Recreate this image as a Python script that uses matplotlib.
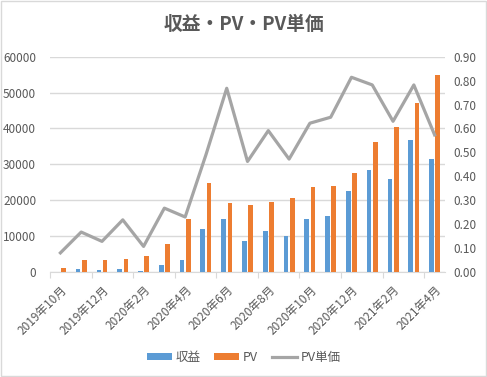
import numpy as np
import matplotlib
matplotlib.use("Agg")
import matplotlib.pyplot as plt
from matplotlib.patches import Rectangle

plt.rcParams['font.family'] = ['Noto Sans CJK JP', 'DejaVu Sans']

# monthly data, 2019-10 .. 2021-04
months = ['2019年10月', '2019年11月', '2019年12月', '2020年1月', '2020年2月', '2020年3月',
          '2020年4月', '2020年5月', '2020年6月', '2020年7月', '2020年8月', '2020年9月',
          '2020年10月', '2020年11月', '2020年12月', '2021年1月', '2021年2月', '2021年3月',
          '2021年4月']
revenue = [100, 730, 450, 700, 400, 2050, 3430, 12100, 14900, 8750, 11500, 9950,
           14900, 15700, 22700, 28300, 25800, 36900, 31600]
pv = [1250, 3430, 3430, 3700, 4560, 7900, 14900, 24900, 19350, 18800, 19600, 20700,
      23800, 24100, 27700, 36100, 40500, 47000, 54800]
pv_price = [0.08, 0.167, 0.128, 0.218, 0.107, 0.267, 0.23, 0.49, 0.768, 0.462, 0.591,
            0.472, 0.622, 0.647, 0.814, 0.782, 0.63, 0.782, 0.573]

txt = '#595959'
grid = '#d9d9d9'
blue = '#5b9bd5'
orange = '#ed7d31'
gray = '#a5a5a5'

fig = plt.figure(figsize=(4.87, 3.77), dpi=100)
ax = fig.add_axes([0.1027, 0.2785, 0.8111, 0.5711])
ax2 = ax.twinx()

x = np.arange(len(months))
w = 0.225
ax.bar(x - 0.15, revenue, w, color=blue, label='収益', zorder=3)
ax.bar(x + 0.15, pv, w, color=orange, label='PV', zorder=3)
ax2.plot(x, pv_price, color=gray, lw=2.3, label='PV単価', zorder=4)

ax.set_xlim(-0.5, len(months) - 0.5)
ax.set_ylim(0, 60000)
ax.set_yticks(np.arange(0, 60001, 10000))
ax2.set_ylim(0, 0.9)
ax2.set_yticks(np.arange(0, 0.91, 0.1))
ax2.set_yticklabels([f'{v:.2f}' for v in np.arange(0, 0.91, 0.1)])

ax.yaxis.grid(True, color=grid, lw=1, zorder=0)
ax.set_axisbelow(True)
for a in (ax, ax2):
    for s in a.spines.values():
        s.set_visible(False)
    a.tick_params(axis='y', length=0, colors=txt, labelsize=8.5)
ax.spines['bottom'].set_visible(True)
ax.spines['bottom'].set_color(grid)
ax.tick_params(axis='y', pad=10)
ax2.tick_params(axis='y', pad=6)

# tick marks at category boundaries, labels every 2 months
ax.set_xticks(np.arange(-0.5, len(months), 2))
ax.set_xticklabels([])
ax.tick_params(axis='x', which='major', length=4, color=grid, direction='out')
ax.set_xticks(x[::2], minor=True)
ax.set_xticklabels([months[i] for i in x[::2]], minor=True, rotation=45,
                   ha='right', rotation_mode='anchor', color=txt, fontsize=8.5)
ax.tick_params(axis='x', which='minor', length=0, pad=8)

fig.text(0.5, 0.935, '収益・PV・PV単価', ha='center', va='center', fontsize=13.5,
         fontweight='bold', color=txt)

h1, l1 = ax.get_legend_handles_labels()
h2, l2 = ax2.get_legend_handles_labels()
fig.legend(h1 + h2, l1 + l2, loc='center', bbox_to_anchor=(0.5, 0.053), ncol=3,
           frameon=False, fontsize=9, labelcolor=txt, handlelength=2.0,
           handleheight=0.5, columnspacing=1.1, handletextpad=0.3)

fig.patches.append(Rectangle((0.002, 0.003), 0.995, 0.994, transform=fig.transFigure,
                             fill=False, ec=grid, lw=1))

fig.savefig('out.png', dpi=100)
